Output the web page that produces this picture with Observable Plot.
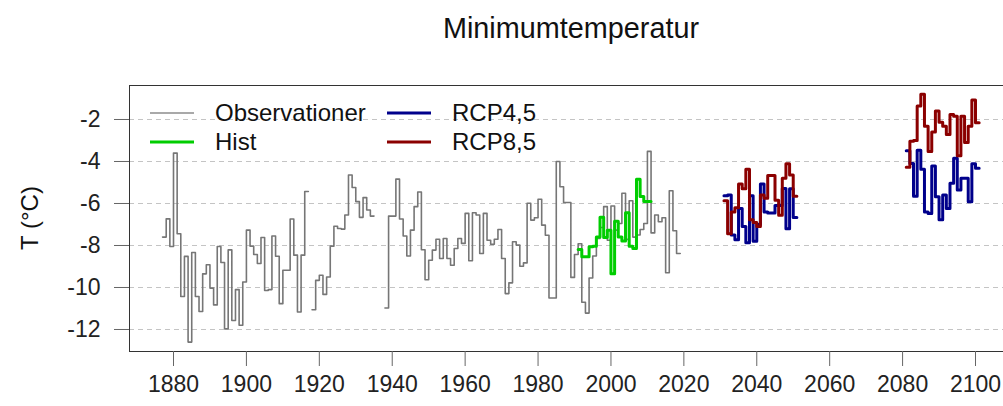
<!DOCTYPE html>
<html><head><meta charset="utf-8">
<script src="https://cdn.jsdelivr.net/npm/d3@7"></script>
<script src="https://cdn.jsdelivr.net/npm/@observablehq/plot@0.6"></script>
<style>html,body{margin:0;padding:0;overflow:hidden;background:#fff}</style>
</head><body><div id="chart"></div>
<script>
// ---- data (annual minimum temperature, °C) ----
const obsStart = 1877;
const obsValues = [
  -7.6, -6.73, -8.05, -3.6, -7.44, -10.43, -8.52, -12.6, -8.33, -10.43,   // 1877-1886
  -11.14, -9.35, -8.92, -10.03, -10.83, -8.05, -8.81, -11.97, -8.21, -11.57, // 1887-1896
  -10.1, -11.8, -9.74, -7.27, -8.03, -8.43, -8.86, -7.62, -10.14, -10.1,   // 1897-1906
  -7.55, -8.51, -10.77, -9.18, -9.18, -6.74, -8.46, -11.17, -8.46, -5.43,  // 1907-1916
  null, -11.06, -9.66, -9.42, -10.33, -9.5, -8.03, -7.08, -7.19, -7.22,     // 1917-1926
  -6.55, -4.64, -5.24, -5.91, -6.66, -5.72, -6.31, -6.6, null, null,       // 1927-1936
  null, -10.98, -6.6, -6.6, -4.84, -6.74, -7.55, -8.5, -7.27, -6.15,       // 1937-1946
  -5.45, -8.2, -9.63, -8.7, -8.22, -7.7, -8.62, -7.67, -8.62, -8.94,       // 1947-1956
  -8.14, -7.67, -7.9, -6.47, -8.73, -6.44, -6.55, -8.38, -6.47, -7.75,     // 1957-1966
  -7.94, -7.7, -7.24, -8.62, -10.29, -9.78, -7.82, -7.98, -8.99, -8.83,    // 1967-1976
  -5.99, -6.79, -6.68, -5.8, -7.03, -7.51, -10.5, -10.5, -4.0, -5.2,       // 1977-1986
  -5.95, -5.95, -9.52, -8.43, -7.92, -10.7, -11.22, -9.55, -8.5, -7.67,    // 1987-1996
  -7.14, -6.15, -7.75, -6.12, -7.27, -6.95, -5.51, -7.71, -5.87, -7.6,     // 1997-2006
  -7.5, -7.24, -6.95, -3.52, -7.4, -6.55, -6.87, -6.68, -9.3, -5.39,       // 2007-2016
  -7.3, -8.38                                                              // 2017-2018
];
const histStart = 1991;
const histValues = [-8.19, -8.54, -8.54, -8.06, -8.03, -7.59, -6.66, -7.62, -7.27, -9.34,
                    -6.84, -7.59, -7.78, -6.44, -8.03, -8.14, -4.85, -5.67, -5.9, -5.9];
const nearStart = 2031;
const farStart = 2081;
const rcp45Near = [-5.63, -5.6, -7.5, -7.73, -6.24, -7.1, -7.87, -5.63, -7.8, -7.0,
                   -5.07, -6.4, -6.45, -6.45, -6.1, -6.1, -5.28, -7.2, -5.3, -6.67];
const rcp45Far  = [-3.49, -4.1, -5.65, -3.47, -4.37, -6.4, -6.48, -4.21, -5.68, -6.77,
                   -5.6, -6.24, -5.04, -3.84, -5.36, -4.8, -4.8, -5.92, -4.11, -4.32];
const rcp85Near = [-5.87, -7.44, -6.4, -6.2, -5.07, -5.3, -4.37, -6.77, -6.9, -7.1,
                   -5.6, -5.75, -4.67, -4.67, -5.84, -6.56, -4.8, -4.11, -4.64, -5.65];
const rcp85Far  = [-4.27, -3.04, -3.0, -1.36, -0.8, -2.32, -3.52, -2.6, -1.6, -2.13,
                   -2.32, -2.72, -1.76, -1.85, -3.73, -1.84, -3.09, -2.32, -1.07, -2.16];
const xTicks = [1880, 1900, 1920, 1940, 1960, 1980, 2000, 2020, 2040, 2060, 2080, 2100];
const yTicks = [-2, -4, -6, -8, -10, -12];
const seriesNames = ["Observationer", "Hist", "RCP4,5", "RCP8,5"];
const seriesColors = ["#767676", "#00CD00", "#00008B", "#8B0000"];

// each annual value is drawn as a one-year step
function steps(start, values, series) {
  const pts = []; let run = 0; let prev = null;
  values.forEach((v, i) => {
    const yr = start + i;
    if (v == null) {
      if (prev != null) { pts.push({year: yr, value: prev, key: series + run}); run++; }
      prev = null; return;
    }
    pts.push({year: yr, value: v, key: series + run}); prev = v;
  });
  if (prev != null) pts.push({year: start + values.length, value: prev, key: series + run});
  return pts;
}
const obs = steps(obsStart, obsValues, "obs");
const hist = steps(histStart, histValues, "hist");
const r45 = steps(nearStart, rcp45Near, "a").concat(steps(farStart, rcp45Far, "b"));
const r85 = steps(nearStart, rcp85Near, "a").concat(steps(farStart, rcp85Far, "b"));

const xDomain = [1867.93, 2107.68];
const yDomain = [-13.048, -0.381];
const font = "'Liberation Sans', Arial, Helvetica, sans-serif";

const plot = Plot.plot({
  width: 1003, height: 406,
  marginLeft: 129, marginRight: 0, marginTop: 85, marginBottom: 55,
  style: {fontFamily: font, background: "#fff", color: "#222", overflow: "visible"},
  x: {domain: xDomain},
  y: {domain: yDomain},
  marks: [
    Plot.gridY(yTicks, {stroke: "#c4c4c4", strokeOpacity: 1, strokeDasharray: "5,4", strokeWidth: 1}),
    Plot.line(obs, {x: "year", y: "value", z: "key", curve: "step-after", stroke: seriesColors[0], strokeWidth: 1.6}),
    Plot.line(hist, {x: "year", y: "value", z: "key", curve: "step-after", stroke: seriesColors[1], strokeWidth: 3}),
    Plot.line(r45, {x: "year", y: "value", z: "key", curve: "step-after", stroke: seriesColors[2], strokeWidth: 3}),
    Plot.line(r85, {x: "year", y: "value", z: "key", curve: "step-after", stroke: seriesColors[3], strokeWidth: 3}),
    Plot.ruleY([yDomain[0], yDomain[1]], {stroke: "#333", strokeWidth: 1}),
    Plot.ruleX([xDomain[0]], {y1: yDomain[0], y2: yDomain[1], stroke: "#333", strokeWidth: 1}),
    Plot.axisX(xTicks, {tickSize: 15, tickPadding: 9, fontSize: 23, stroke: "#666", tickFormat: d => String(d), label: null}),
    Plot.axisY(yTicks, {tickSize: 15, tickPadding: 14, fontSize: 23, stroke: "#666", tickFormat: d => String(d), label: null})
  ]
});

const svg = d3.select(plot);
// title
svg.append("text").attr("x", 571).attr("y", 28).attr("dy", "0.35em")
  .attr("text-anchor", "middle").attr("font-family", font).attr("font-size", 28.8)
  .attr("fill", "#111").text("Minimumtemperatur");
// y label
svg.append("text").attr("transform", "translate(30,218) rotate(-90)").attr("dy", "0.35em")
  .attr("text-anchor", "middle").attr("font-family", font).attr("font-size", 24)
  .attr("fill", "#111").text("T (°C)");
// legend
const legendCols = [150, 387];
const legendRows = [113, 142];
const lg = svg.append("g").attr("font-family", font).attr("font-size", 24).attr("fill", "#111")
  .attr("text-anchor", "start");
seriesNames.forEach((name, i) => {
  const cx = legendCols[Math.floor(i / 2)], cy = legendRows[i % 2];
  lg.append("line").attr("x1", cx).attr("x2", cx + 44).attr("y1", cy).attr("y2", cy)
    .attr("stroke", i === 0 ? "#8c8c8c" : seriesColors[i]).attr("stroke-width", i === 0 ? 1.6 : 3);
  lg.append("text").attr("x", cx + 65).attr("y", cy).attr("dy", "0.35em")
    .attr("text-anchor", "start").text(name);
});
document.getElementById("chart").appendChild(plot);
</script></body></html>
